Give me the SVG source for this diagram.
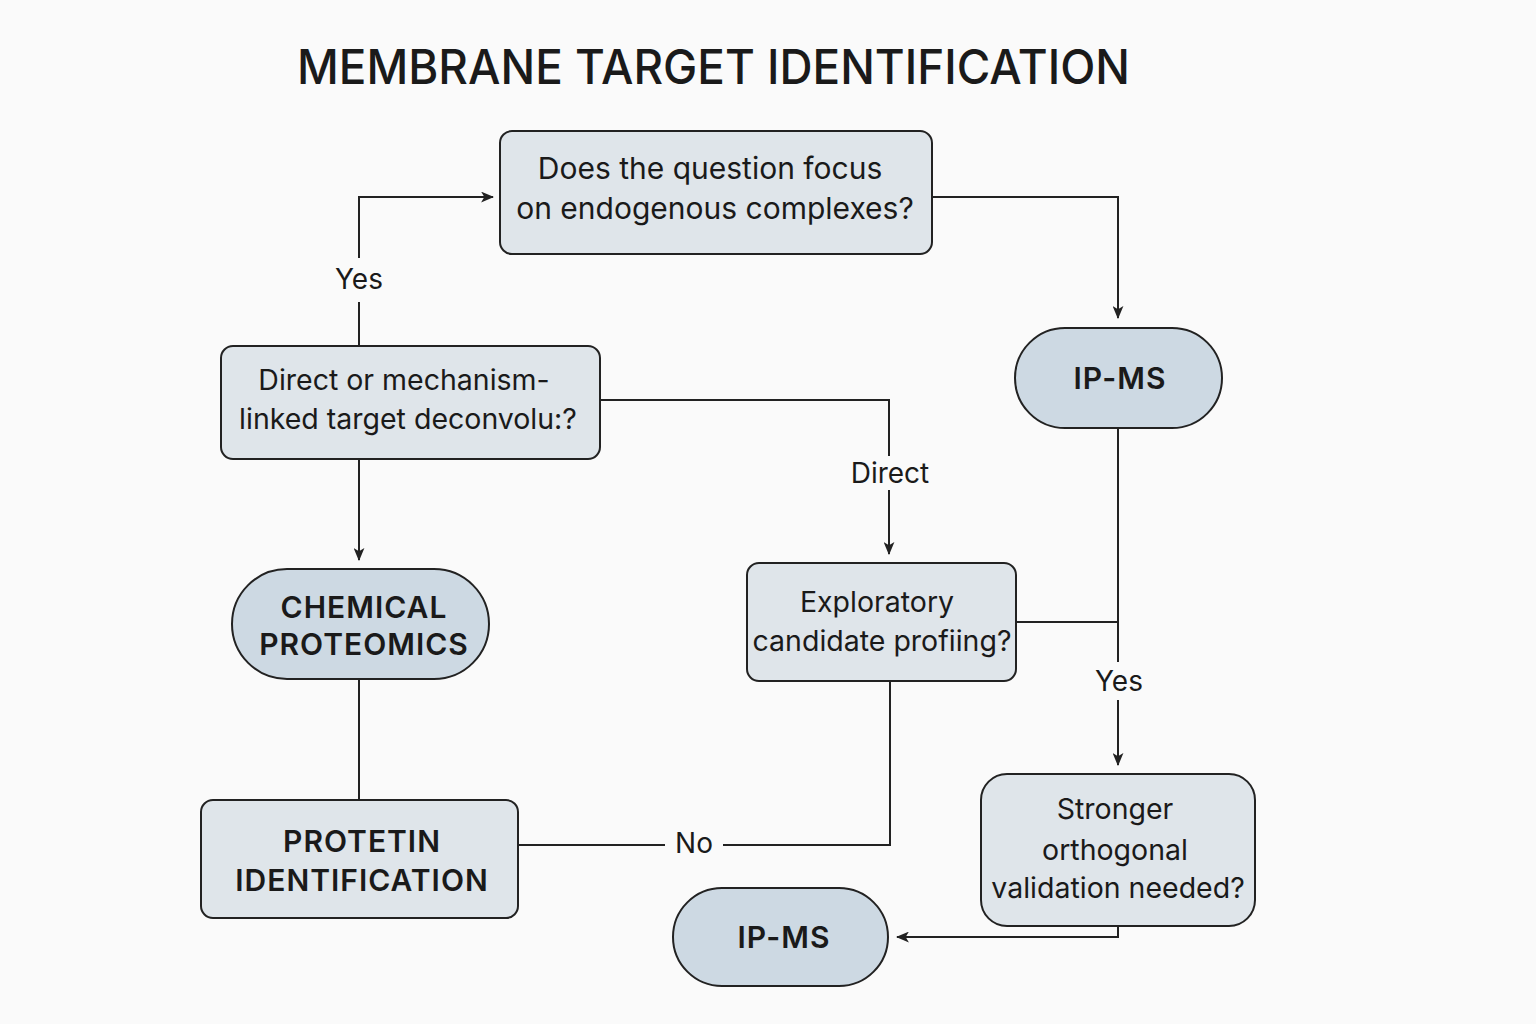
<svg xmlns="http://www.w3.org/2000/svg" width="1536" height="1024" viewBox="0 0 1536 1024">
<style>
.bg{fill:#fafafa}
.box{fill:#dfe5ea;stroke:#222;stroke-width:2}
.pill{fill:#cdd9e3;stroke:#222;stroke-width:2}
.t{font-family:Inter,"Liberation Sans",sans-serif;font-size:28.5px;fill:#1a1a1a;text-anchor:middle}
.tl{font-size:30px}
.b{font-family:Inter,"Liberation Sans",sans-serif;font-size:30px;font-weight:600;letter-spacing:1px;fill:#1a1a1a;text-anchor:middle}
.title{font-family:Inter,"Liberation Sans",sans-serif;font-size:48px;font-weight:500;fill:#1a1a1a}
.c{fill:none;stroke:#222;stroke-width:2}
.lbl{font-family:Inter,"Liberation Sans",sans-serif;font-size:28px;fill:#1a1a1a;text-anchor:middle}
</style>
<defs>
<marker id="ah" viewBox="0 0 12 10" refX="11" refY="5" markerWidth="13" markerHeight="11" markerUnits="userSpaceOnUse" orient="auto">
<path d="M0,0 L12,5 L0,10 L3,5 Z" fill="#222"/>
</marker>
</defs>
<rect class="bg" width="1536" height="1024"/>
<text class="title" x="297" y="84" textLength="833" lengthAdjust="spacingAndGlyphs">MEMBRANE TARGET IDENTIFICATION</text>

<g id="connectors">
<path class="c" d="M359,346 V302 M359,258 V197 H493" marker-end="url(#ah)"/>
<path class="c" d="M932,197 H1118 V318" marker-end="url(#ah)"/>
<path class="c" d="M600,400 H889 V456 M889,490 V554" marker-end="url(#ah)"/>
<path class="c" d="M359,459 V560" marker-end="url(#ah)"/>
<path class="c" d="M359,679 V800"/>
<path class="c" d="M1118,428 V662 M1118,700 V765" marker-end="url(#ah)"/>
<path class="c" d="M1016,622 H1118"/>
<path class="c" d="M890,681 V845 H723 M665,845 H518"/>
<path class="c" d="M1118,926 V937 H897" marker-end="url(#ah)"/>
<text class="lbl" x="359" y="289">Yes</text>
<text class="lbl" x="890" y="483">Direct</text>
<text class="lbl" x="1119" y="691">Yes</text>
<text class="lbl" x="694" y="853">No</text>
</g>

<g id="n-question">
<rect class="box" x="500" y="131" width="432" height="123" rx="12"/>
<text class="t tl" x="710" y="179">Does the question focus</text>
<text class="t tl" x="715" y="219">on endogenous complexes?</text>
</g>
<g id="n-direct">
<rect class="box" x="221" y="346" width="379" height="113" rx="12"/>
<text class="t" x="404" y="390">Direct or mechanism-</text>
<text class="t" x="408" y="429">linked target deconvolu:?</text>
</g>
<g id="n-ipms-top">
<rect class="pill" x="1015" y="328" width="207" height="100" rx="50"/>
<text class="b" x="1120" y="389">IP-MS</text>
</g>
<g id="n-chem">
<rect class="pill" x="232" y="569" width="257" height="110" rx="55"/>
<text class="b" x="364" y="618">CHEMICAL</text>
<text class="b" x="364" y="655">PROTEOMICS</text>
</g>
<g id="n-explor">
<rect class="box" x="747" y="563" width="269" height="118" rx="12"/>
<text class="t" x="877" y="612">Exploratory</text>
<text class="t" x="882" y="651">candidate profiing?</text>
</g>
<g id="n-protein">
<rect class="box" x="201" y="800" width="317" height="118" rx="12"/>
<text class="b" x="362" y="852">PROTETIN</text>
<text class="b" x="362" y="891">IDENTIFICATION</text>
</g>
<g id="n-stronger">
<rect class="box" x="981" y="774" width="274" height="152" rx="26"/>
<text class="t" x="1115" y="819">Stronger</text>
<text class="t" x="1115" y="860">orthogonal</text>
<text class="t" x="1118" y="898">validation needed?</text>
</g>
<g id="n-ipms-bottom">
<rect class="pill" x="673" y="888" width="215" height="98" rx="49"/>
<text class="b" x="784" y="948">IP-MS</text>
</g>
</svg>
